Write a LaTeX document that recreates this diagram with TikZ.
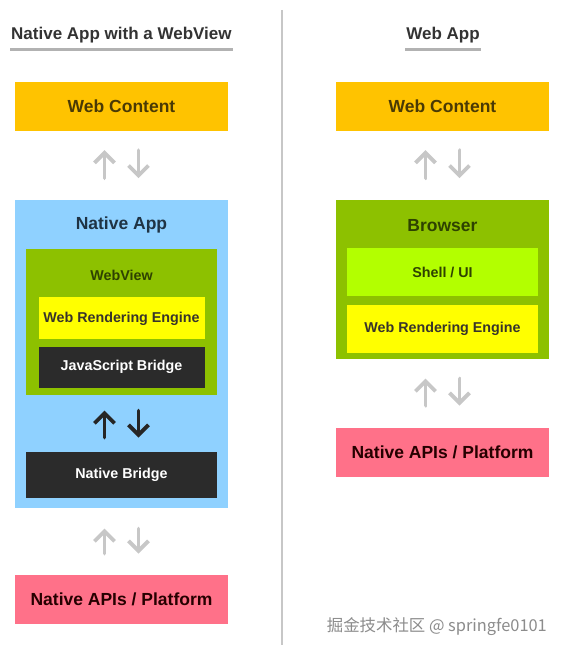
\documentclass[tikz,border=0pt]{standalone}
\usepackage{fontspec}
\setmainfont{Liberation Sans}
\newfontfamily\cjkfont{Noto Sans CJK SC}
\usepackage{tikz}
\usetikzlibrary{positioning, arrows.meta, calc}
\definecolor{contentcolor}{HTML}{FFC300}
\definecolor{appcolor}{HTML}{8FD1FF}
\definecolor{viewcolor}{HTML}{8DC100}
\definecolor{enginecolor}{HTML}{FFFF00}
\definecolor{shellcolor}{HTML}{B3FF00}
\definecolor{bridgecolor}{HTML}{2B2B2B}
\definecolor{apicolor}{HTML}{FF7189}
\definecolor{browntext}{HTML}{4A3A05}
\definecolor{apptext}{HTML}{1F3344}
\definecolor{viewtext}{HTML}{2E4200}
\tikzset{
    box/.style        = {rectangle, inner sep=0pt, align=center,
                         font=\fontsize{17.5}{20}\selectfont\bfseries},
    contentbox/.style = {box, fill=contentcolor, text=browntext,
                         minimum width=213pt, minimum height=49pt},
    appbox/.style     = {box, fill=appcolor, minimum width=213pt},
    viewbox/.style    = {box, fill=viewcolor, minimum width=191pt},
    enginebox/.style  = {box, fill=enginecolor, text=black!80!olive,
                         font=\fontsize{14.3}{17}\selectfont\bfseries},
    shellbox/.style   = {enginebox, fill=shellcolor, text=viewtext},
    bridgebox/.style  = {enginebox, fill=bridgecolor, text=white},
    apibox/.style     = {box, fill=apicolor, text=black!85!red,
                         minimum width=213pt, minimum height=49pt},
    boxlbl/.style     = {font=\fontsize{17.5}{20}\selectfont\bfseries, inner sep=0pt},
    title/.style      = {font=\fontsize{17}{21}\selectfont\bfseries, text=black!80,
                         inner sep=1pt},
    updown/.style     = {-{Straight Barb[length=10pt, width=20pt]}, line width=3.8pt,
                         line cap=round, black!22},
    updownbold/.style = {updown, black!85},
}

\begin{document}
\begin{tikzpicture}[x=1pt, y=-1pt]
\useasboundingbox[fill=white] (0,0) rectangle (564,655);

% titles and divider
\node[title, anchor=base west] (ltitle) at (10,40) {Native App with a WebView};
\node[title, anchor=base] (rtitle) at (443,40) {Web App};
\draw[black!30, line width=3pt] ([yshift=-5pt]ltitle.south west) -- ([yshift=-5pt]ltitle.south east);
\draw[black!30, line width=3pt] ([yshift=-5pt]rtitle.south west) -- ([yshift=-5pt]rtitle.south east);
\draw[black!22, line width=2pt] (282,10) -- (282,645);

% native app with a webview
\node[contentbox] (lweb) at (121.5,106.5) {Web Content};
\node[appbox, minimum height=308pt, below=69pt of lweb] (lapp) {};
\node[boxlbl, text=apptext] (lapptxt) at ([yshift=-25pt]lapp.north) {Native App};
\node[viewbox, minimum height=146pt, below=49pt of lapp.north] (lview) {};
\node[boxlbl, text=viewtext, font=\fontsize{14.3}{17}\selectfont\bfseries]
    (lviewtxt) at ([yshift=-26pt]lview.north) {WebView};
\node[enginebox, minimum width=166pt, minimum height=42pt, below=48pt of lview.north]
    (lengine) {Web Rendering Engine};
\node[bridgebox, minimum width=166pt, minimum height=41pt, below=7pt of lengine]
    (jsbridge) {JavaScript Bridge};
\node[bridgebox, minimum width=191pt, minimum height=46pt, below=56pt of lview]
    (nbridge) {Native Bridge};
\node[apibox, below=66pt of lapp] (lapi) {Native APIs / Platform};

\draw[updown, shorten <=22pt, shorten >=19pt]
    ([xshift=-17pt]lapp.north) -- ([xshift=-17pt]lweb.south);
\draw[updown, shorten <=19pt, shorten >=22pt]
    ([xshift=17pt]lweb.south) -- ([xshift=17pt]lapp.north);
\draw[updownbold, shorten <=14pt, shorten >=15pt]
    ([xshift=-17pt]nbridge.north) -- ([xshift=-17pt]lview.south);
\draw[updownbold, shorten <=15pt, shorten >=14pt]
    ([xshift=17pt]lview.south) -- ([xshift=17pt]nbridge.north);
\draw[updown, shorten <=21pt, shorten >=20pt]
    ([xshift=-17pt]lapi.north) -- ([xshift=-17pt]lapp.south);
\draw[updown, shorten <=20pt, shorten >=21pt]
    ([xshift=17pt]lapp.south) -- ([xshift=17pt]lapi.north);

% web app
\node[contentbox] (rweb) at (442.5,106.5) {Web Content};
\node[viewbox, minimum width=213pt, minimum height=159pt, below=69pt of rweb] (browser) {};
\node[boxlbl, text=viewtext] (browsertxt) at ([yshift=-25pt]browser.north) {Browser};
\node[shellbox, minimum width=191pt, minimum height=48pt, below=48pt of browser.north]
    (shell) {Shell / UI};
\node[enginebox, minimum width=191pt, minimum height=48pt, below=8pt of shell]
    (rengine) {Web Rendering Engine};
\node[apibox, below=68pt of browser] (rapi) {Native APIs / Platform};

\draw[updown, shorten <=22pt, shorten >=19pt]
    ([xshift=-17pt]browser.north) -- ([xshift=-17pt]rweb.south);
\draw[updown, shorten <=19pt, shorten >=22pt]
    ([xshift=17pt]rweb.south) -- ([xshift=17pt]browser.north);
\draw[updown, shorten <=22pt, shorten >=19pt]
    ([xshift=-17pt]rapi.north) -- ([xshift=-17pt]browser.south);
\draw[updown, shorten <=19pt, shorten >=22pt]
    ([xshift=17pt]browser.south) -- ([xshift=17pt]rapi.north);

% watermark
\node[font=\cjkfont\fontsize{16.4}{18}\selectfont, text=black!45, anchor=east, inner sep=0pt]
    (mark) at (547,627) {掘金技术社区 @ springfe0101};

\end{tikzpicture}
\end{document}
